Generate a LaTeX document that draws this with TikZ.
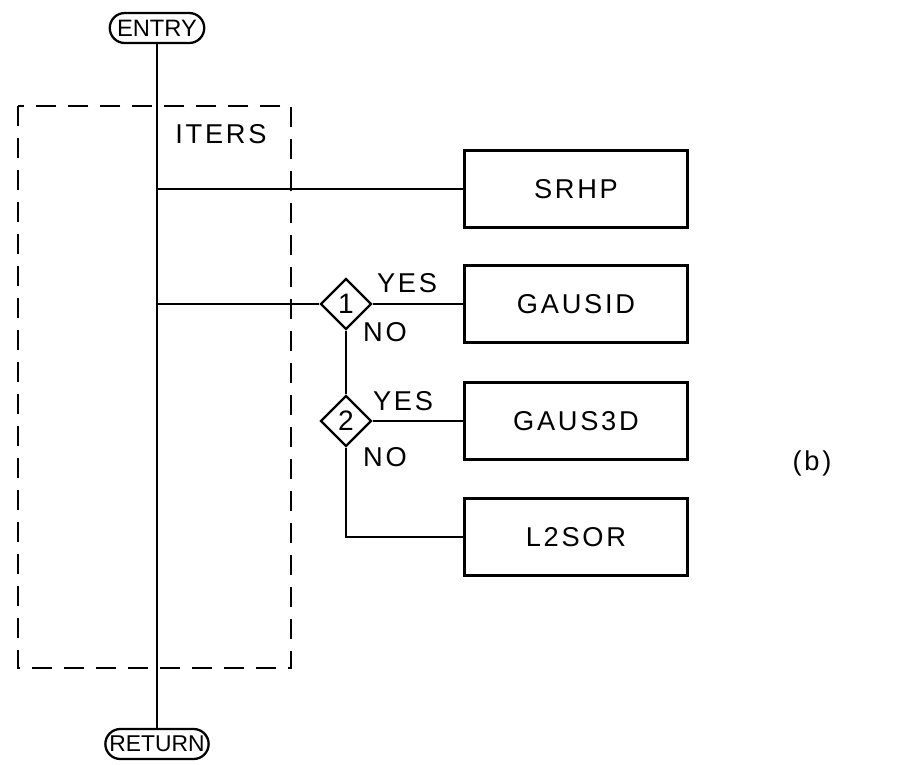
\documentclass[tikz,border=0pt]{standalone}
\usepackage{fontspec}
\setmainfont{Liberation Sans}
\usetikzlibrary{shapes.geometric,shapes.misc}

\tikzset{
    routine/.style={draw, line width=1.3pt, minimum width=4.46cm, minimum height=1.54cm, inner sep=0pt},
    terminal/.style={draw, line width=1.3pt, rounded rectangle, minimum width=1.96cm, minimum height=0.6cm, inner sep=1pt},
    decision/.style={draw, line width=1.3pt, diamond, minimum size=1.02cm, inner sep=0pt},
    lbl/.style={inner sep=0pt, font=\addfontfeatures{LetterSpace=10}\fontsize{15.5}{17}\selectfont},
}

\begin{document}
\begin{tikzpicture}[x=0.02cm, y=-0.02cm, line width=1.3pt]
    \useasboundingbox (0,0) rectangle (921,765);

    \node[terminal, font=\fontsize{13.5}{15}\selectfont] (entry) at (157,28) {ENTRY};
    \node[terminal, font=\fontsize{13}{15}\selectfont] (return) at (157,744) {RETURN};
    \draw (entry.south) -- (return.north);

    % ITERS group
    \draw[dash pattern=on 0.4cm off 0.24cm] (18,106) rectangle (291,668);
    \node[lbl] (iters) at (221,134) {ITERS};

    \node[routine, lbl] (srhp) at (576,189) {SRHP};
    \node[routine, lbl] (gausid) at (576,304) {GAUSID};
    \node[routine, lbl] (gaus3d) at (576,421) {GAUS3D};
    \node[routine, lbl] (lsor) at (576,537) {L2SOR};

    \node[decision, font=\fontsize{16}{18}\selectfont] (dec1) at (346,304) {1};
    \node[decision, font=\fontsize{16}{18}\selectfont] (dec2) at (346,421) {2};

    \draw (srhp.west -| entry.south) -- (srhp.west);
    \draw (dec1.west -| entry.south) -- (dec1.west);
    \draw (dec1.east) -- (gausid.west);
    \draw (dec1.south) -- (dec2.north);
    \draw (dec2.east) -- (gaus3d.west);
    \draw (dec2.south) |- (lsor.west);

    \node[lbl] (yes1) at (407,283) {YES};
    \node[lbl] (no1) at (385,332) {NO};
    \node[lbl] (yes2) at (403,401) {YES};
    \node[lbl] (no2) at (385,457) {NO};

    \node[lbl] (tag) at (812,463) {(b)};
\end{tikzpicture}
\end{document}
